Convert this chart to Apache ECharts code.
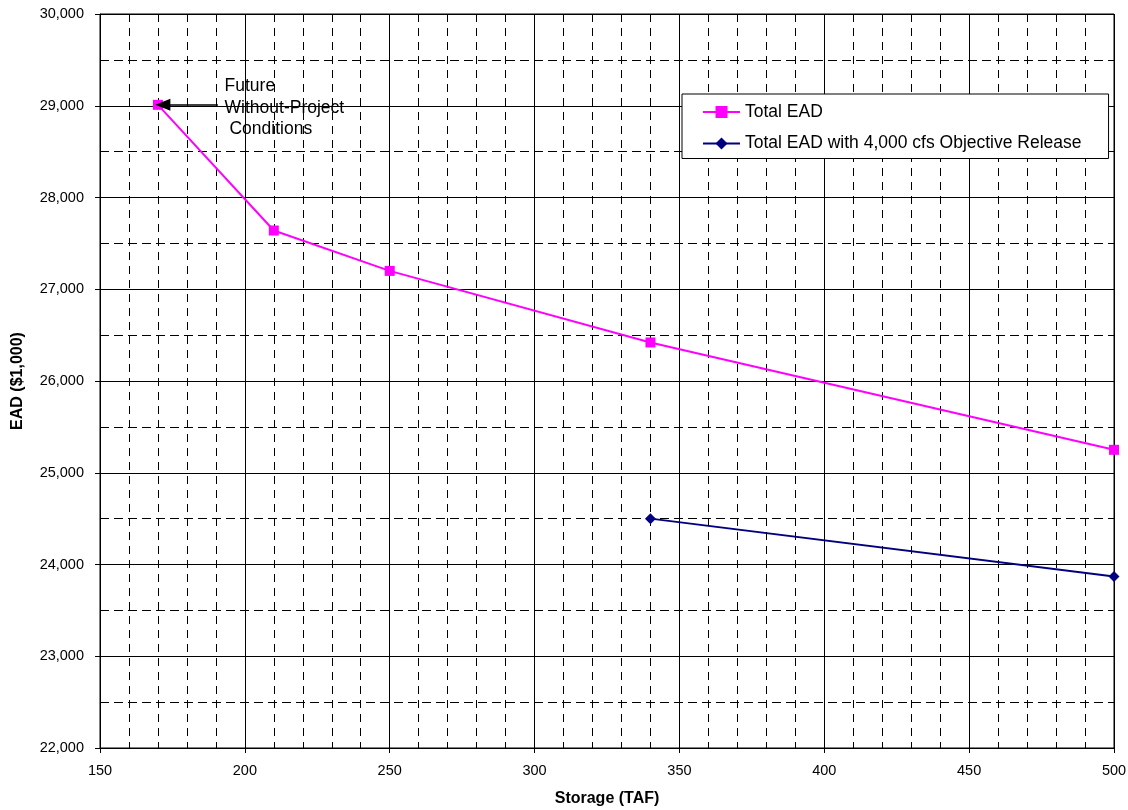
<!DOCTYPE html>
<html><head><meta charset="utf-8">
<script src="https://cdn.jsdelivr.net/npm/echarts@6/dist/echarts.min.js"></script>
<style>html,body{margin:0;padding:0;background:#fff}#c{width:1128px;height:810px}</style>
</head><body><div id="c"></div>
<script>
const totalX = [170, 210, 250, 340, 500];
const totalY = [29010, 27640, 27200, 26420, 25250];
const relX = [340, 500];
const relY = [24500, 23870];
const seriesNames = ['Total EAD', 'Total EAD with 4,000 cfs Objective Release'];
const annotationText = ['Future', 'Without-Project', ' Conditions'];
const annotationFrom = [190.7, 29010];
const annotationTo = [171.7, 29010];
const annotationTextAt = [193, 28975];

const chart = echarts.init(document.getElementById('c'), null, {renderer: 'canvas'});
const font = 'Liberation Sans, Arial, sans-serif';
const fmt = v => Number(v).toLocaleString('en-US');
chart.setOption({
  animation: false,
  textStyle: {fontFamily: font},
  grid: {left: 100, right: 14, top: 14, bottom: 62, show: true, borderColor: '#000', borderWidth: 1, outerBoundsMode: 'none', containLabel: false},
  xAxis: {
    type: 'value', min: 150, max: 500, interval: 50,
    name: 'Storage (TAF)', nameLocation: 'middle', nameGap: 43,
    nameTextStyle: {fontWeight: 'bold', fontSize: 16, color: '#000', fontFamily: font},
    axisLine: {show: true, lineStyle: {color: '#000', width: 1}},
    axisTick: {show: true, length: 5, lineStyle: {color: '#000'}},
    axisLabel: {color: '#000', fontSize: 14.5, margin: 15, fontFamily: font},
    splitLine: {show: true, lineStyle: {color: '#000', width: 1}},
    minorTick: {show: false, splitNumber: 5},
    minorSplitLine: {show: true, lineStyle: {color: '#000', width: 1, type: [8, 6]}}
  },
  yAxis: {
    type: 'value', min: 22000, max: 30000, interval: 1000,
    name: 'EAD ($1,000)', nameLocation: 'middle', nameGap: 74, nameRotate: 90,
    nameTextStyle: {fontWeight: 'bold', fontSize: 16, color: '#000', fontFamily: font},
    axisLine: {show: true, lineStyle: {color: '#000', width: 1}},
    axisTick: {show: true, length: 5, lineStyle: {color: '#000'}},
    axisLabel: {color: '#000', fontSize: 14.5, margin: 16, formatter: fmt, fontFamily: font},
    splitLine: {show: true, lineStyle: {color: '#000', width: 1}},
    minorTick: {show: false, splitNumber: 2},
    minorSplitLine: {show: true, lineStyle: {color: '#000', width: 1, type: [9, 5]}}
  },
  legend: {
    orient: 'vertical', left: 682, top: 94,
    backgroundColor: '#fff', borderColor: '#000', borderWidth: 1,
    padding: [9, 27, 6, 20], itemGap: 13.5, itemWidth: 37, itemHeight: 15,
    textStyle: {fontSize: 17.5, color: '#000', fontFamily: font},
    data: seriesNames
  },
  series: [
    {
      name: seriesNames[0], type: 'line',
      data: totalX.map((x, i) => [x, totalY[i]]),
      symbol: 'rect', symbolSize: 10,
      lineStyle: {color: '#FF00FF', width: 2},
      itemStyle: {color: '#FF00FF'},
      markLine: {
        silent: true, symbol: ['none', 'triangle'], symbolSize: [12, 15],
        lineStyle: {color: '#000', width: 1.5, type: 'solid'},
        label: {show: false},
        data: [[{coord: annotationFrom}, {coord: annotationTo}]]
      },
      markPoint: {
        silent: true, symbol: 'circle', symbolSize: 0,
        data: [{coord: annotationTextAt}],
        label: {
          show: true, position: 'right', distance: 0,
          formatter: annotationText.join('\n'),
          color: '#000', fontSize: 17.5, lineHeight: 21.5, fontFamily: font, align: 'left'
        }
      }
    },
    {
      name: seriesNames[1], type: 'line',
      data: relX.map((x, i) => [x, relY[i]]),
      symbol: 'diamond', symbolSize: 11,
      lineStyle: {color: '#000080', width: 2},
      itemStyle: {color: '#000080'}
    }
  ]
});
</script></body></html>
